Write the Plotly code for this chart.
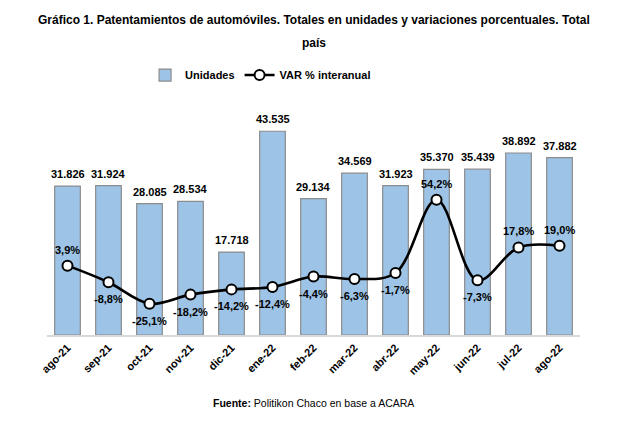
import plotly.graph_objects as go

meses = ["ago-21", "sep-21", "oct-21", "nov-21", "dic-21", "ene-22", "feb-22",
         "mar-22", "abr-22", "may-22", "jun-22", "jul-22", "ago-22"]
unidades = [31826, 31924, 28085, 28534, 17718, 43535, 29134,
            34569, 31923, 35370, 35439, 38892, 37882]
var_interanual = [3.9, -8.8, -25.1, -18.2, -14.2, -12.4, -4.4,
                  -6.3, -1.7, 54.2, -7.3, 17.8, 19.0]

FONT = "Liberation Sans, Arial, sans-serif"

fig = go.Figure()

fig.add_trace(go.Bar(
    x=meses, y=unidades, name="Unidades",
    marker=dict(color="#9dc3e6", line=dict(color="#8c8c8c", width=1.2)),
    yaxis="y",
))

fig.add_trace(go.Scatter(
    x=meses, y=var_interanual, name="VAR % interanual",
    mode="lines+markers",
    line=dict(color="black", width=2.6, shape="spline", smoothing=1.0),
    marker=dict(symbol="circle", size=10, color="white",
                line=dict(color="black", width=2)),
    yaxis="y2",
))

annotations = []
# etiquetas de unidades
for m, u in zip(meses, unidades):
    annotations.append(dict(
        x=m, y=u, xref="x", yref="y", text=f"{u:,}".replace(",", "."),
        showarrow=False, yanchor="middle", yshift=12,
        font=dict(family=FONT, size=11, color="black", weight="bold"),
    ))
# etiquetas de variación
for m, v in zip(meses, var_interanual):
    annotations.append(dict(
        x=m, y=v, xref="x", yref="y2",
        text=f"{v:.1f}".replace(".", ",") + "%",
        showarrow=False, yanchor="middle", yshift=16 if v > 0 else -17,
        font=dict(family=FONT, size=11, color="black", weight="bold"),
    ))

# título y fuente
annotations.append(dict(
    x=0.5, y=1.346, xref="paper", yref="paper", showarrow=False,
    text="Gráfico 1. Patentamientos de automóviles. Totales en unidades y variaciones porcentuales. Total",
    font=dict(family=FONT, size=12, color="black", weight="bold"), yanchor="middle",
))
annotations.append(dict(
    x=0.5, y=1.248, xref="paper", yref="paper", showarrow=False,
    text="país",
    font=dict(family=FONT, size=12, color="black", weight="bold"), yanchor="middle",
))
annotations.append(dict(
    x=0.5, y=-0.291, xref="paper", yref="paper", showarrow=False,
    text="<b>Fuente:</b> Politikon Chaco en base a ACARA",
    font=dict(family=FONT, size=10.5, color="black"), yanchor="middle",
))

fig.update_layout(
    width=625, height=431,
    margin=dict(l=39, r=53, t=93, b=104),
    paper_bgcolor="white", plot_bgcolor="white",
    bargap=0.374,
    showlegend=True,
    legend=dict(orientation="h", x=0.184, xanchor="left", y=1.111, yanchor="middle",
                font=dict(family=FONT, size=11, color="black", weight="bold"),
                traceorder="normal"),
    xaxis=dict(
        range=[-0.5, 12.5], tickangle=-45, showgrid=False, automargin=False,
        showline=True, linecolor="#d9d9d9", linewidth=2, ticks="",
        tickfont=dict(family=FONT, size=11, color="black", weight="bold"),
    ),
    yaxis=dict(range=[0, 50000], visible=False, showgrid=False, automargin=False),
    yaxis2=dict(range=[-49, 129.5], overlaying="y", visible=False, showgrid=False,
                automargin=False),
    annotations=annotations,
)

fig.write_html("out.html")
